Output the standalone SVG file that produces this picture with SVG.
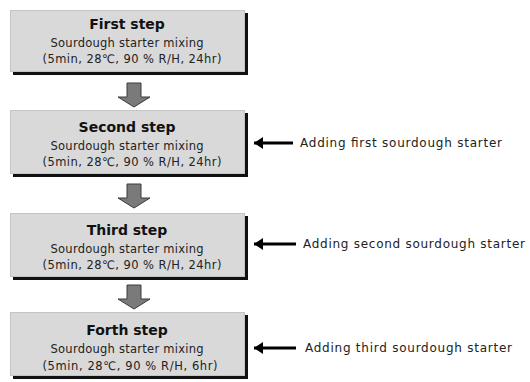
<svg xmlns="http://www.w3.org/2000/svg" width="530" height="382" viewBox="0 0 530 382">
<defs>
<style>
.shadow{fill:#111}
.box{fill:#d9d9d9;stroke:#c4c4c4;stroke-width:1}
.title{font-family:"DejaVu Sans",Verdana,sans-serif;font-weight:bold;font-size:14px;fill:#111;text-anchor:middle}
.sub{font-family:"DejaVu Sans",Verdana,sans-serif;font-size:11.5px;fill:#222;text-anchor:middle}
.note{font-family:"DejaVu Sans",Verdana,sans-serif;font-size:12px;fill:#222}
.down{fill:#7a7a7a;stroke:#3a3a3a;stroke-width:1}
.side{stroke:#000;stroke-width:3;fill:none}
</style>
<marker id="ah" markerWidth="4" markerHeight="4" refX="3" refY="2" orient="auto" markerUnits="strokeWidth">
<path d="M0,0 L3,2 L0,4 Z" fill="#000"/>
</marker>
</defs>
<rect width="530" height="382" fill="#fff"/>

<g id="step1">
<rect class="shadow" x="13" y="13" width="235" height="62"/>
<rect class="box" x="10.5" y="10.5" width="234" height="61"/>
<text class="title" x="127" y="29">First step</text>
<text class="sub" x="127" y="47" textLength="153">Sourdough starter mixing</text>
<text class="sub" x="132" y="63" textLength="179">(5min, 28℃, 90 % R/H, 24hr)</text>
</g>

<g id="step2">
<rect class="shadow" x="13" y="113" width="235" height="64"/>
<rect class="box" x="10.5" y="110.5" width="234" height="63"/>
<text class="title" x="127" y="132">Second step</text>
<text class="sub" x="127" y="150" textLength="153">Sourdough starter mixing</text>
<text class="sub" x="132" y="166" textLength="179">(5min, 28℃, 90 % R/H, 24hr)</text>
</g>

<g id="step3">
<rect class="shadow" x="13" y="216" width="235" height="64"/>
<rect class="box" x="10.5" y="213.5" width="234" height="63"/>
<text class="title" x="127" y="235">Third step</text>
<text class="sub" x="127" y="253" textLength="153">Sourdough starter mixing</text>
<text class="sub" x="132" y="269" textLength="179">(5min, 28℃, 90 % R/H, 24hr)</text>
</g>

<g id="step4">
<rect class="shadow" x="13" y="315" width="235" height="64"/>
<rect class="box" x="10.5" y="312.5" width="234" height="63"/>
<text class="title" x="127" y="335">Forth step</text>
<text class="sub" x="127" y="353" textLength="153">Sourdough starter mixing</text>
<text class="sub" x="130" y="370" textLength="175">(5min, 28℃, 90 % R/H, 6hr)</text>
</g>

<g id="note1">
<text class="note" x="300" y="147" textLength="202">Adding first sourdough starter</text>
</g>
<g id="note2">
<text class="note" x="303" y="248" textLength="222">Adding second sourdough starter</text>
</g>
<g id="note3">
<text class="note" x="305" y="352" textLength="207">Adding third sourdough starter</text>
</g>

<g id="connectors">
<path class="down" d="M127,83 H141 V97 H150 L134,107 L118,97 H127 Z"/>
<path class="down" d="M127,184 H141 V198 H150 L134,208 L118,198 H127 Z"/>
<path class="down" d="M127,285 H141 V299 H150 L134,309 L118,299 H127 Z"/>
<line class="side" x1="293" y1="143" x2="254" y2="143" marker-end="url(#ah)"/>
<line class="side" x1="296" y1="244" x2="254" y2="244" marker-end="url(#ah)"/>
<line class="side" x1="296" y1="348" x2="254" y2="348" marker-end="url(#ah)"/>
</g>
</svg>
